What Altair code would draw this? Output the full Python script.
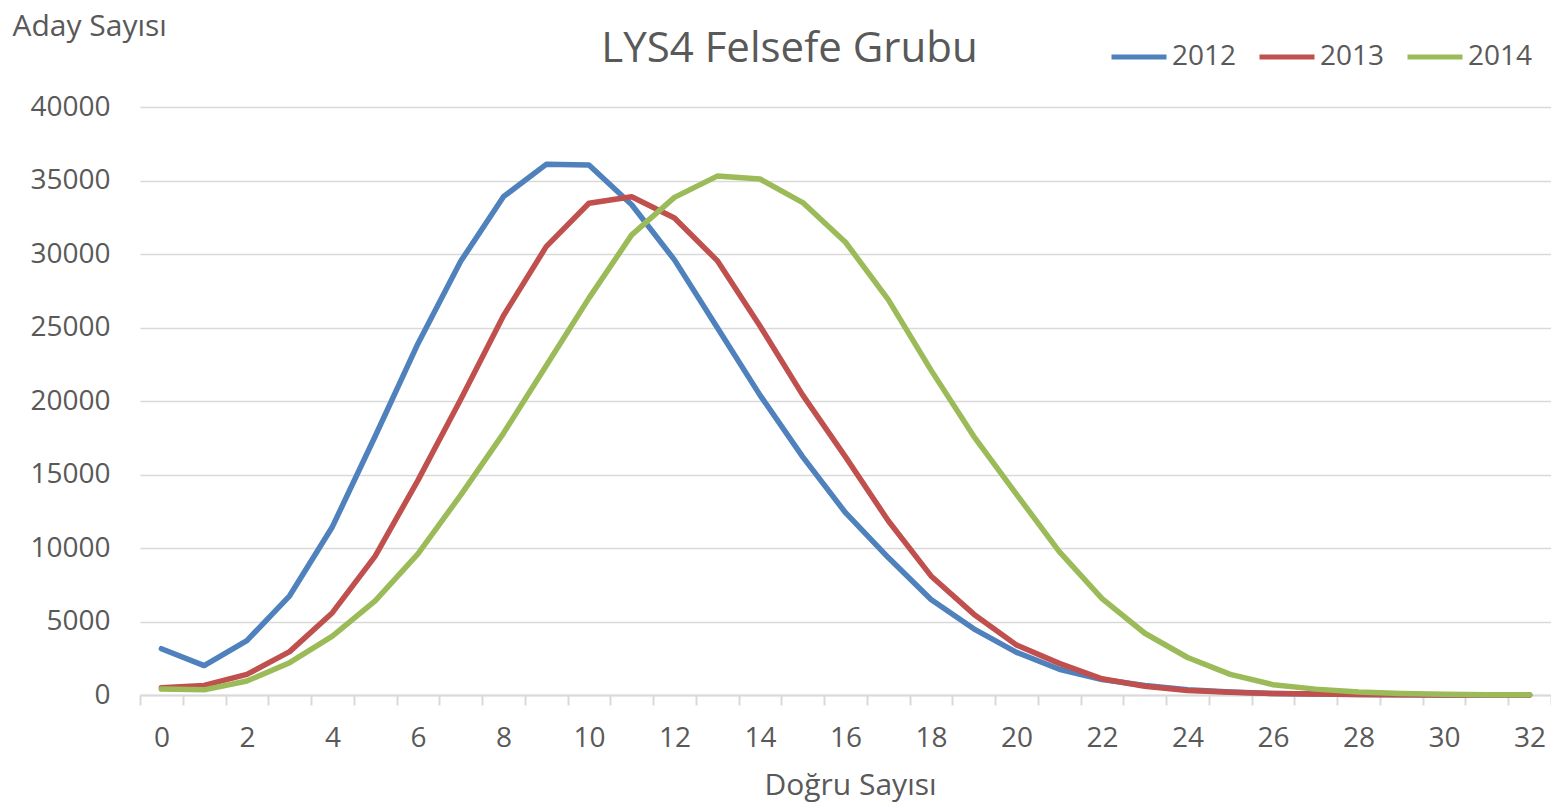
import altair as alt
import pandas as pd

# Number of correct answers (Doğru Sayısı)
correct = list(range(33))

# Number of candidates (Aday Sayısı) per year
y2012 = [3150, 2000, 3700, 6750, 11450, 17600, 23900, 29500, 33900, 36100, 36050,
         33350, 29600, 25000, 20400, 16200, 12400, 9350, 6500, 4500, 2900, 1750,
         1050, 650, 350, 200, 100, 60, 30, 15, 8, 3, 1]
y2013 = [500, 650, 1400, 2950, 5600, 9450, 14600, 20100, 25800, 30500, 33450,
         33900, 32450, 29550, 25100, 20400, 16200, 11850, 8100, 5500, 3400, 2150,
         1100, 600, 300, 180, 100, 60, 30, 15, 8, 3, 1]
y2014 = [400, 350, 950, 2200, 4000, 6400, 9600, 13600, 17800, 22400, 27000,
         31300, 33850, 35300, 35100, 33500, 30800, 26900, 22100, 17600, 13650,
         9750, 6550, 4200, 2550, 1400, 700, 400, 200, 100, 50, 20, 10]

years = ["2012", "2013", "2014"]
colors = ["#4F81BD", "#C0504D", "#9BBB59"]
y_ticks = list(range(0, 40001, 5000))
x_boundaries = [c - 0.5 for c in correct] + [correct[-1] + 0.5]

rows = []
for yr, vals in zip(years, [y2012, y2013, y2014]):
    for c, v in zip(correct, vals):
        rows.append({"Doğru": c, "Aday": v, "Yıl": yr})
df = pd.DataFrame(rows)

FONT = "Open Sans"
TXT = "#595959"
GRID = "#D9D9D9"

W, H = 1411, 588
band = W / len(correct)

chart = alt.Chart(df).mark_line(strokeWidth=5.5, strokeCap="round", strokeJoin="round").encode(
    x=alt.X(
        "Doğru:Q",
        scale=alt.Scale(domain=[x_boundaries[0], x_boundaries[-1]], nice=False, zero=False),
        axis=alt.Axis(
            values=x_boundaries,
            labelExpr="(datum.value + 0.5) % 2 == 0 ? format(datum.value + 0.5, 'd') : ''",
            labelOffset=band / 2,
            labelOverlap=False,
            labelFlush=False,
            labelBound=False,
            labelFont=FONT,
            labelFontSize=28,
            labelColor=TXT,
            labelPadding=19,
            grid=False,
            domain=True,
            domainColor=GRID,
            domainWidth=2,
            ticks=True,
            tickColor=GRID,
            tickWidth=2,
            tickSize=10,
            title="Doğru Sayısı",
            titleFont=FONT,
            titleFontSize=30,
            titleFontWeight="normal",
            titleColor=TXT,
            titlePadding=18,
            titleX=710,
        ),
    ),
    y=alt.Y(
        "Aday:Q",
        scale=alt.Scale(domain=[0, 40000], nice=False),
        axis=alt.Axis(
            values=y_ticks,
            format="d",
            grid=True,
            gridColor=GRID,
            gridWidth=1.5,
            domain=False,
            ticks=False,
            labelPadding=30,
            labelFont=FONT,
            labelFontSize=28,
            labelColor=TXT,
            title="Aday Sayısı",
            titleAngle=0,
            titleAlign="left",
            titleBaseline="top",
            titleX=-128,
            titleY=-96,
            titleFont=FONT,
            titleFontSize=30,
            titleFontWeight="normal",
            titleColor=TXT,
        ),
    ),
    color=alt.Color(
        "Yıl:N",
        scale=alt.Scale(domain=years, range=colors),
        legend=alt.Legend(
            title=None,
            orient="none",
            direction="horizontal",
            legendX=969,
            legendY=-80,
            symbolType="stroke",
            symbolSize=3025,
            symbolStrokeWidth=5,
            labelFont=FONT,
            labelFontSize=28,
            labelColor=TXT,
            labelOffset=3,
            columnPadding=12,
            padding=0,
        ),
    ),
).properties(
    width=W,
    height=H,
    title=alt.TitleParams(
        "LYS4 Felsefe Grubu",
        font=FONT,
        fontSize=42,
        fontWeight="normal",
        color=TXT,
        anchor="middle",
        dx=-56,
        dy=93,
        baseline="alphabetic",
        offset=0,
    ),
    autosize=alt.AutoSizeParams(type="none"),
    padding={"left": 132, "top": 99, "right": 0, "bottom": 113},
).configure_view(stroke=None)

chart.save("out.html", embed_options={"renderer": "svg", "actions": False})
